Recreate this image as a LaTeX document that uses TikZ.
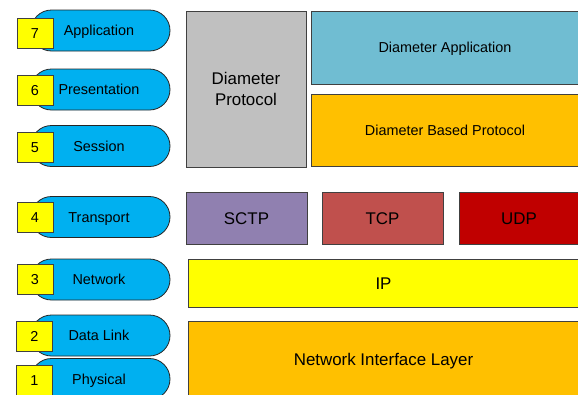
\documentclass[tikz,border=0pt]{standalone}
\usepackage{fontspec}
\setmainfont{Liberation Sans}
\definecolor{pillblue}{HTML}{00B0F0}
\definecolor{numyellow}{HTML}{FFFF00}
\definecolor{dpgray}{HTML}{C0C0C0}
\definecolor{dateal}{HTML}{70BDD2}
\definecolor{dborange}{HTML}{FFC000}
\definecolor{sctppurple}{HTML}{9080B0}
\definecolor{tcpred}{HTML}{C0504D}
\definecolor{udpred}{HTML}{C00000}
\definecolor{edgegray}{HTML}{404040}
\tikzset{
  pill/.style={draw=black!85, line width=0.8pt, fill=pillblue, rounded corners=20.5pt,
    minimum width=139pt, minimum height=41pt, inner sep=0pt,
    text height=10.3pt, text depth=0pt,
    font=\fontsize{14.4}{17}\selectfont},
  numbox/.style={draw=edgegray, line width=0.8pt, fill=numyellow, minimum width=36pt,
    minimum height=30pt, inner sep=0pt, text height=10.3pt, text depth=0pt,
    font=\fontsize{14.4}{17}\selectfont},
  layerbox/.style={draw=edgegray, line width=0.8pt, inner sep=0pt, align=center,
    text height=12.1pt, text depth=0pt,
    font=\fontsize{16.9}{20.3}\selectfont},
  smalltext/.style={font=\fontsize{14.4}{17}\selectfont, text height=10.3pt}
}
\begin{document}
\begin{tikzpicture}[x=1pt,y=-1pt]
\clip (0,0) rectangle (578,394);
\fill[white] (0,0) rectangle (578,394);
% pills
\node[pill] (p7) at (100.5,30.5) {\hspace*{-3pt}Application};
\node[pill] (p6) at (100.5,89.5) {\hspace*{-3pt}Presentation};
\node[pill] (p5) at (100.5,146) {\hspace*{-3pt}Session};
\node[pill] (p4) at (100.5,217) {\hspace*{-3pt}Transport};
\node[pill] (p3) at (100.5,279.5) {\hspace*{-3pt}Network};
\node[pill] (p2) at (100.5,335.5) {\hspace*{-3pt}Data Link};
\node[pill] (p1) at (100.5,379) {\hspace*{-3pt}Physical};
% number boxes
\node[numbox] (n7) at (35,33) {7};
\node[numbox] (n6) at (35,90.5) {6};
\node[numbox] (n5) at (35,147) {5};
\node[numbox] (n4) at (35,217) {4};
\node[numbox] (n3) at (35,279.5) {3};
\node[numbox] (n2) at (34.5,336) {2};
\node[numbox] (n1) at (34.5,380) {1};
% layer boxes
\node[layerbox, fill=dpgray, minimum width=120pt, minimum height=156pt, text height={}, text depth={}] (dp) at (246,89) {Diameter\\Protocol};
\node[layerbox, fill=dateal, minimum width=268pt, minimum height=73pt, smalltext] (da) at (445,47.5) {Diameter Application};
\node[layerbox, fill=dborange, minimum width=268pt, minimum height=72pt, smalltext] (dbp) at (445,130) {Diameter Based Protocol};
\node[layerbox, fill=sctppurple, minimum width=121pt, minimum height=52pt] (sctp) at (246.5,218) {SCTP};
\node[layerbox, fill=tcpred, minimum width=121pt, minimum height=52pt] (tcp) at (382.5,218) {TCP};
\node[layerbox, fill=udpred, minimum width=120pt, minimum height=52pt] (udp) at (519,218) {UDP};
\node[layerbox, fill=numyellow, minimum width=391pt, minimum height=48pt] (ip) at (383.5,283) {IP};
\node[layerbox, fill=dborange, minimum width=391pt, minimum height=76pt] (nil) at (383.5,359) {Network Interface Layer};
\end{tikzpicture}
\end{document}
